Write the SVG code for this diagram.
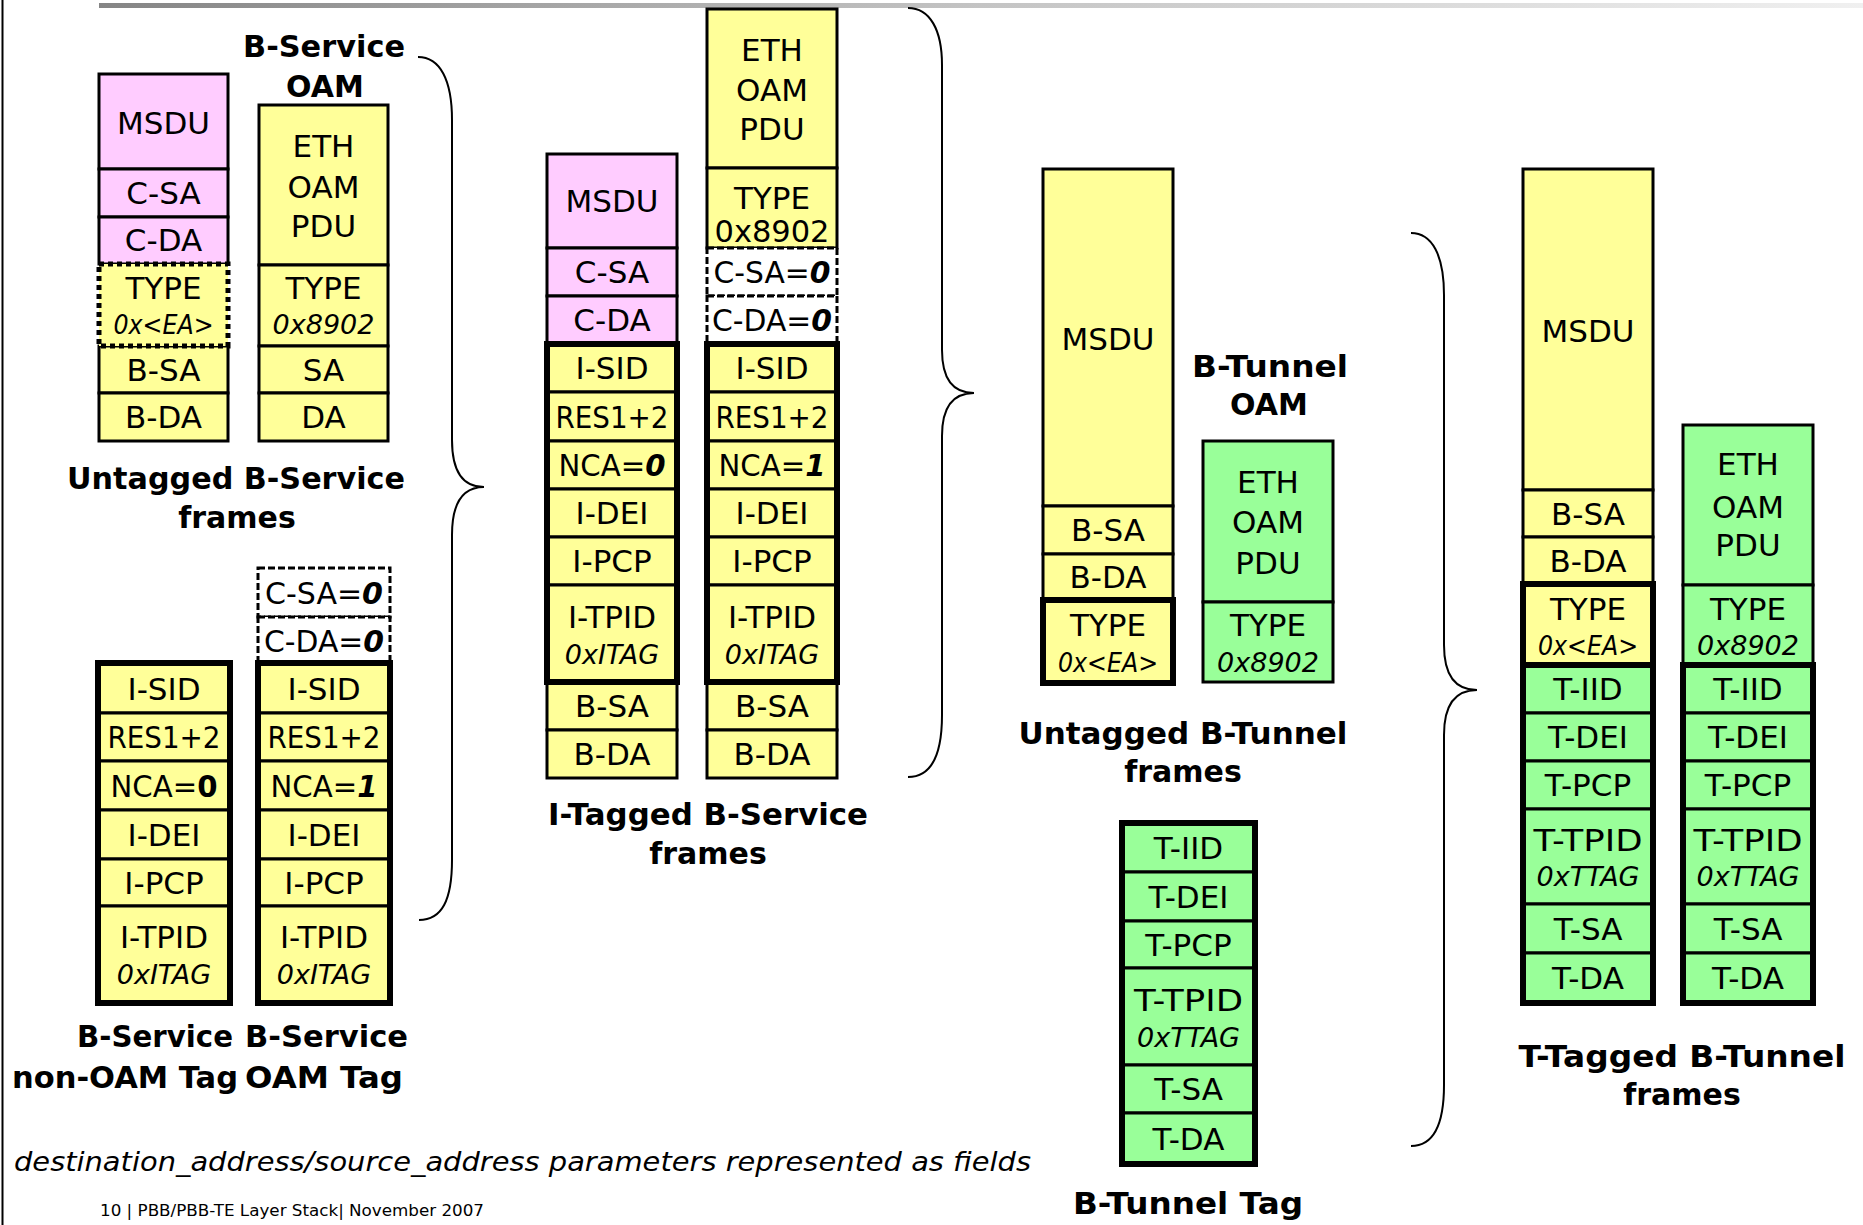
<svg xmlns="http://www.w3.org/2000/svg" width="1863" height="1225" viewBox="0 0 1863 1225">
<defs>
<linearGradient id="bar" x1="0" y1="0" x2="1" y2="0">
<stop offset="0" stop-color="#858585"/>
<stop offset="0.5" stop-color="#c4c4c4"/>
<stop offset="1" stop-color="#f0f0f0"/>
</linearGradient>
<style>
.y{fill:#FFFF99;stroke:#000;stroke-width:3}
.p{fill:#FFCCFF;stroke:#000;stroke-width:3}
.g{fill:#99FF99;stroke:#000;stroke-width:3}
.w{fill:#FFFFFF;stroke:#000;stroke-width:3;stroke-dasharray:7 3}
.dot{fill:#FFFF99;stroke:#000;stroke-width:5;stroke-dasharray:5 4}
.thick{fill:none;stroke:#000;stroke-width:6}
.brace{fill:none;stroke:#000;stroke-width:2}
text{font-family:"DejaVu Sans","Liberation Sans",sans-serif;fill:#000}
.t{font-size:31px;text-anchor:middle}
.ti{font-size:27px;font-style:italic;text-anchor:middle}
.b{font-weight:bold}
.bi{font-weight:bold;font-style:italic}
.lb{font-size:30px;font-weight:bold;text-anchor:middle}
</style>
</defs>
<rect x="0" y="0" width="1863" height="1225" fill="#fff"/>
<rect x="99" y="3" width="1764" height="5" fill="url(#bar)"/>
<line x1="2.5" y1="0" x2="2.5" y2="1225" stroke="#000" stroke-width="2"/>

<g id="col-untagged-bservice">
<rect class="p" x="99" y="74" width="129" height="95"/>
<rect class="p" x="99" y="169" width="129" height="48"/>
<rect class="p" x="99" y="217" width="129" height="47"/>
<rect class="y" x="99" y="346" width="129" height="47"/>
<rect class="y" x="99" y="393" width="129" height="48"/>
<rect class="dot" x="99" y="264" width="129" height="82"/>
<text class="t" x="163.5" y="134">MSDU</text>
<text class="t" x="163.5" y="204">C-SA</text>
<text class="t" x="163.5" y="251">C-DA</text>
<text class="t" x="163.5" y="299">TYPE</text>
<text class="ti" x="163.5" y="334" textLength="100" lengthAdjust="spacingAndGlyphs">0x&lt;EA&gt;</text>
<text class="t" x="163.5" y="381">B-SA</text>
<text class="t" x="163.5" y="428">B-DA</text>
</g>

<g id="col-bservice-oam">
<rect class="y" x="259" y="105" width="129" height="160"/>
<rect class="y" x="259" y="265" width="129" height="81"/>
<rect class="y" x="259" y="346" width="129" height="47"/>
<rect class="y" x="259" y="393" width="129" height="48"/>
<text class="t" x="323.5" y="157">ETH</text>
<text class="t" x="323.5" y="198">OAM</text>
<text class="t" x="323.5" y="237">PDU</text>
<text class="t" x="323.5" y="299">TYPE</text>
<text class="ti" x="323.5" y="334">0x8902</text>
<text class="t" x="323.5" y="381">SA</text>
<text class="t" x="323.5" y="428">DA</text>
</g>

<g id="col-bservice-nonoam-tag">
<rect class="y" x="98" y="663" width="132" height="50"/>
<rect class="y" x="98" y="713" width="132" height="48"/>
<rect class="y" x="98" y="761" width="132" height="49"/>
<rect class="y" x="98" y="810" width="132" height="49"/>
<rect class="y" x="98" y="859" width="132" height="47"/>
<rect class="y" x="98" y="906" width="132" height="97"/>
<rect class="thick" x="98" y="663" width="132" height="340"/>
<text class="t" x="164" y="700">I-SID</text>
<text class="t" x="164" y="748" textLength="113" lengthAdjust="spacingAndGlyphs">RES1+2</text>
<text class="t" x="164" y="797" textLength="107" lengthAdjust="spacingAndGlyphs">NCA=<tspan class="b">0</tspan></text>
<text class="t" x="164" y="846">I-DEI</text>
<text class="t" x="164" y="894">I-PCP</text>
<text class="t" x="164" y="948">I-TPID</text>
<text class="ti" x="164" y="984">0xITAG</text>
</g>

<g id="col-bservice-oam-tag">
<rect class="w" x="258" y="568" width="132" height="49"/>
<rect class="w" x="258" y="617" width="132" height="46"/>
<rect class="y" x="258" y="663" width="132" height="50"/>
<rect class="y" x="258" y="713" width="132" height="48"/>
<rect class="y" x="258" y="761" width="132" height="49"/>
<rect class="y" x="258" y="810" width="132" height="49"/>
<rect class="y" x="258" y="859" width="132" height="47"/>
<rect class="y" x="258" y="906" width="132" height="97"/>
<rect class="thick" x="258" y="663" width="132" height="340"/>
<text class="t" x="324" y="604" textLength="118" lengthAdjust="spacingAndGlyphs">C-SA=<tspan class="bi">0</tspan></text>
<text class="t" x="324" y="652" textLength="120" lengthAdjust="spacingAndGlyphs">C-DA=<tspan class="bi">0</tspan></text>
<text class="t" x="324" y="700">I-SID</text>
<text class="t" x="324" y="748" textLength="113" lengthAdjust="spacingAndGlyphs">RES1+2</text>
<text class="t" x="324" y="797" textLength="107" lengthAdjust="spacingAndGlyphs">NCA=<tspan class="bi">1</tspan></text>
<text class="t" x="324" y="846">I-DEI</text>
<text class="t" x="324" y="894">I-PCP</text>
<text class="t" x="324" y="948">I-TPID</text>
<text class="ti" x="324" y="984">0xITAG</text>
</g>

<g id="col-itagged-msdu">
<rect class="p" x="547" y="154" width="130" height="94"/>
<rect class="p" x="547" y="248" width="130" height="48"/>
<rect class="p" x="547" y="296" width="130" height="48"/>
<rect class="y" x="547" y="344" width="130" height="48"/>
<rect class="y" x="547" y="392" width="130" height="49"/>
<rect class="y" x="547" y="441" width="130" height="48"/>
<rect class="y" x="547" y="489" width="130" height="48"/>
<rect class="y" x="547" y="537" width="130" height="48"/>
<rect class="y" x="547" y="585" width="130" height="97"/>
<rect class="y" x="547" y="682" width="130" height="48"/>
<rect class="y" x="547" y="730" width="130" height="48"/>
<rect class="thick" x="547" y="344" width="130" height="338"/>
<text class="t" x="612" y="212">MSDU</text>
<text class="t" x="612" y="283">C-SA</text>
<text class="t" x="612" y="331">C-DA</text>
<text class="t" x="612" y="379">I-SID</text>
<text class="t" x="612" y="428" textLength="113" lengthAdjust="spacingAndGlyphs">RES1+2</text>
<text class="t" x="612" y="476" textLength="107" lengthAdjust="spacingAndGlyphs">NCA=<tspan class="bi">0</tspan></text>
<text class="t" x="612" y="524">I-DEI</text>
<text class="t" x="612" y="572">I-PCP</text>
<text class="t" x="612" y="628">I-TPID</text>
<text class="ti" x="612" y="664">0xITAG</text>
<text class="t" x="612" y="717">B-SA</text>
<text class="t" x="612" y="765">B-DA</text>
</g>

<g id="col-itagged-oam">
<rect class="y" x="707" y="9" width="130" height="159"/>
<rect class="y" x="707" y="168" width="130" height="80"/>
<rect class="w" x="707" y="248" width="130" height="48"/>
<rect class="w" x="707" y="296" width="130" height="48"/>
<rect class="y" x="707" y="344" width="130" height="48"/>
<rect class="y" x="707" y="392" width="130" height="49"/>
<rect class="y" x="707" y="441" width="130" height="48"/>
<rect class="y" x="707" y="489" width="130" height="48"/>
<rect class="y" x="707" y="537" width="130" height="48"/>
<rect class="y" x="707" y="585" width="130" height="97"/>
<rect class="y" x="707" y="682" width="130" height="48"/>
<rect class="y" x="707" y="730" width="130" height="48"/>
<rect class="thick" x="707" y="344" width="130" height="338"/>
<text class="t" x="772" y="61">ETH</text>
<text class="t" x="772" y="101">OAM</text>
<text class="t" x="772" y="140">PDU</text>
<text class="t" x="772" y="209">TYPE</text>
<text class="t" x="772" y="242" textLength="115" lengthAdjust="spacingAndGlyphs">0x8902</text>
<text class="t" x="772" y="283" textLength="117" lengthAdjust="spacingAndGlyphs">C-SA=<tspan class="bi">0</tspan></text>
<text class="t" x="772" y="331" textLength="120" lengthAdjust="spacingAndGlyphs">C-DA=<tspan class="bi">0</tspan></text>
<text class="t" x="772" y="379">I-SID</text>
<text class="t" x="772" y="428" textLength="113" lengthAdjust="spacingAndGlyphs">RES1+2</text>
<text class="t" x="772" y="476" textLength="107" lengthAdjust="spacingAndGlyphs">NCA=<tspan class="bi">1</tspan></text>
<text class="t" x="772" y="524">I-DEI</text>
<text class="t" x="772" y="572">I-PCP</text>
<text class="t" x="772" y="628">I-TPID</text>
<text class="ti" x="772" y="664">0xITAG</text>
<text class="t" x="772" y="717">B-SA</text>
<text class="t" x="772" y="765">B-DA</text>
</g>

<g id="col-untagged-btunnel">
<rect class="y" x="1043" y="169" width="130" height="337"/>
<rect class="y" x="1043" y="506" width="130" height="48"/>
<rect class="y" x="1043" y="554" width="130" height="46"/>
<rect class="y" x="1043" y="600" width="130" height="83"/>
<rect class="thick" x="1043" y="600" width="130" height="83"/>
<text class="t" x="1108" y="350">MSDU</text>
<text class="t" x="1108" y="541">B-SA</text>
<text class="t" x="1108" y="588">B-DA</text>
<text class="t" x="1108" y="636">TYPE</text>
<text class="ti" x="1108" y="672" textLength="100" lengthAdjust="spacingAndGlyphs">0x&lt;EA&gt;</text>
</g>

<g id="col-btunnel-oam">
<rect class="g" x="1203" y="441" width="130" height="161"/>
<rect class="g" x="1203" y="602" width="130" height="80"/>
<text class="t" x="1268" y="493">ETH</text>
<text class="t" x="1268" y="533">OAM</text>
<text class="t" x="1268" y="574">PDU</text>
<text class="t" x="1268" y="636">TYPE</text>
<text class="ti" x="1268" y="672">0x8902</text>
</g>

<g id="col-btunnel-tag">
<rect class="g" x="1122" y="823" width="133" height="49"/>
<rect class="g" x="1122" y="872" width="133" height="49"/>
<rect class="g" x="1122" y="921" width="133" height="47"/>
<rect class="g" x="1122" y="968" width="133" height="97"/>
<rect class="g" x="1122" y="1065" width="133" height="48"/>
<rect class="g" x="1122" y="1113" width="133" height="51"/>
<rect class="thick" x="1122" y="823" width="133" height="341"/>
<text class="t" x="1188.5" y="859">T-IID</text>
<text class="t" x="1188.5" y="908">T-DEI</text>
<text class="t" x="1188.5" y="956">T-PCP</text>
<text class="t" x="1188.5" y="1011" textLength="109" lengthAdjust="spacingAndGlyphs">T-TPID</text>
<text class="ti" x="1188.5" y="1047">0xTTAG</text>
<text class="t" x="1188.5" y="1100">T-SA</text>
<text class="t" x="1188.5" y="1150">T-DA</text>
</g>

<g id="col-ttagged-msdu">
<rect class="y" x="1523" y="169" width="130" height="321"/>
<rect class="y" x="1523" y="490" width="130" height="47"/>
<rect class="y" x="1523" y="537" width="130" height="47"/>
<rect class="y" x="1523" y="584" width="130" height="81"/>
<rect class="thick" x="1523" y="584" width="130" height="81"/>
<rect class="g" x="1523" y="665" width="130" height="48"/>
<rect class="g" x="1523" y="713" width="130" height="48"/>
<rect class="g" x="1523" y="761" width="130" height="48"/>
<rect class="g" x="1523" y="809" width="130" height="95"/>
<rect class="g" x="1523" y="904" width="130" height="49"/>
<rect class="g" x="1523" y="953" width="130" height="50"/>
<rect class="thick" x="1523" y="665" width="130" height="338"/>
<text class="t" x="1588" y="342">MSDU</text>
<text class="t" x="1588" y="525">B-SA</text>
<text class="t" x="1588" y="572">B-DA</text>
<text class="t" x="1588" y="620">TYPE</text>
<text class="ti" x="1588" y="655" textLength="100" lengthAdjust="spacingAndGlyphs">0x&lt;EA&gt;</text>
<text class="t" x="1588" y="700">T-IID</text>
<text class="t" x="1588" y="748">T-DEI</text>
<text class="t" x="1588" y="796">T-PCP</text>
<text class="t" x="1588" y="851" textLength="109" lengthAdjust="spacingAndGlyphs">T-TPID</text>
<text class="ti" x="1588" y="886">0xTTAG</text>
<text class="t" x="1588" y="940">T-SA</text>
<text class="t" x="1588" y="989">T-DA</text>
</g>

<g id="col-ttagged-oam">
<rect class="g" x="1683" y="425" width="130" height="160"/>
<rect class="g" x="1683" y="585" width="130" height="80"/>
<rect class="g" x="1683" y="665" width="130" height="48"/>
<rect class="g" x="1683" y="713" width="130" height="48"/>
<rect class="g" x="1683" y="761" width="130" height="48"/>
<rect class="g" x="1683" y="809" width="130" height="95"/>
<rect class="g" x="1683" y="904" width="130" height="49"/>
<rect class="g" x="1683" y="953" width="130" height="50"/>
<rect class="thick" x="1683" y="665" width="130" height="338"/>
<text class="t" x="1748" y="475">ETH</text>
<text class="t" x="1748" y="518">OAM</text>
<text class="t" x="1748" y="556">PDU</text>
<text class="t" x="1748" y="620">TYPE</text>
<text class="ti" x="1748" y="655">0x8902</text>
<text class="t" x="1748" y="700">T-IID</text>
<text class="t" x="1748" y="748">T-DEI</text>
<text class="t" x="1748" y="796">T-PCP</text>
<text class="t" x="1748" y="851" textLength="109" lengthAdjust="spacingAndGlyphs">T-TPID</text>
<text class="ti" x="1748" y="886">0xTTAG</text>
<text class="t" x="1748" y="940">T-SA</text>
<text class="t" x="1748" y="989">T-DA</text>
</g>

<g id="connectors">
<path class="brace" d="M418,57 C440,57 452,80 452,120 L452,440 C452,475 465,487 484,487 C465,487 452,500 452,535 L452,860 C452,900 442,920 419,920"/>
<path class="brace" d="M908,8 C930,8 942,30 942,65 L942,350 C942,382 955,393 974,393 C955,393 942,404 942,436 L942,715 C942,755 932,777 908,777"/>
<path class="brace" d="M1411,233 C1432,233 1444,255 1444,295 L1444,645 C1444,678 1457,690 1477,690 C1457,690 1444,702 1444,735 L1444,1085 C1444,1125 1434,1146 1411,1146"/>
</g>

<g id="labels">
<text class="lb" x="324" y="57" textLength="162" lengthAdjust="spacingAndGlyphs">B-Service</text>
<text class="lb" x="325" y="97">OAM</text>
<text class="lb" x="236" y="489" textLength="338" lengthAdjust="spacingAndGlyphs">Untagged B-Service</text>
<text class="lb" x="237" y="528">frames</text>
<text class="lb" x="155" y="1047" textLength="156" lengthAdjust="spacingAndGlyphs">B-Service</text>
<text class="lb" x="326.5" y="1047" textLength="163" lengthAdjust="spacingAndGlyphs">B-Service</text>
<text class="lb" x="125" y="1088" textLength="226" lengthAdjust="spacingAndGlyphs">non-OAM Tag</text>
<text class="lb" x="324" y="1088" textLength="158" lengthAdjust="spacingAndGlyphs">OAM Tag</text>
<text class="lb" x="708" y="825" textLength="320" lengthAdjust="spacingAndGlyphs">I-Tagged B-Service</text>
<text class="lb" x="708" y="864">frames</text>
<text class="lb" x="1270" y="377" textLength="156" lengthAdjust="spacingAndGlyphs">B-Tunnel</text>
<text class="lb" x="1269" y="415">OAM</text>
<text class="lb" x="1183" y="744" textLength="329" lengthAdjust="spacingAndGlyphs">Untagged B-Tunnel</text>
<text class="lb" x="1183" y="782">frames</text>
<text class="lb" x="1188" y="1214" textLength="230" lengthAdjust="spacingAndGlyphs">B-Tunnel Tag</text>
<text class="lb" x="1682" y="1067" textLength="327" lengthAdjust="spacingAndGlyphs">T-Tagged B-Tunnel</text>
<text class="lb" x="1682" y="1105">frames</text>
<text x="14" y="1171" font-size="27" font-style="italic" textLength="1017" lengthAdjust="spacingAndGlyphs">destination_address/source_address parameters represented as fields</text>
<text x="100" y="1216" font-size="16" textLength="384" lengthAdjust="spacingAndGlyphs">10 | PBB/PBB-TE Layer Stack| November 2007</text>
</g>
</svg>
